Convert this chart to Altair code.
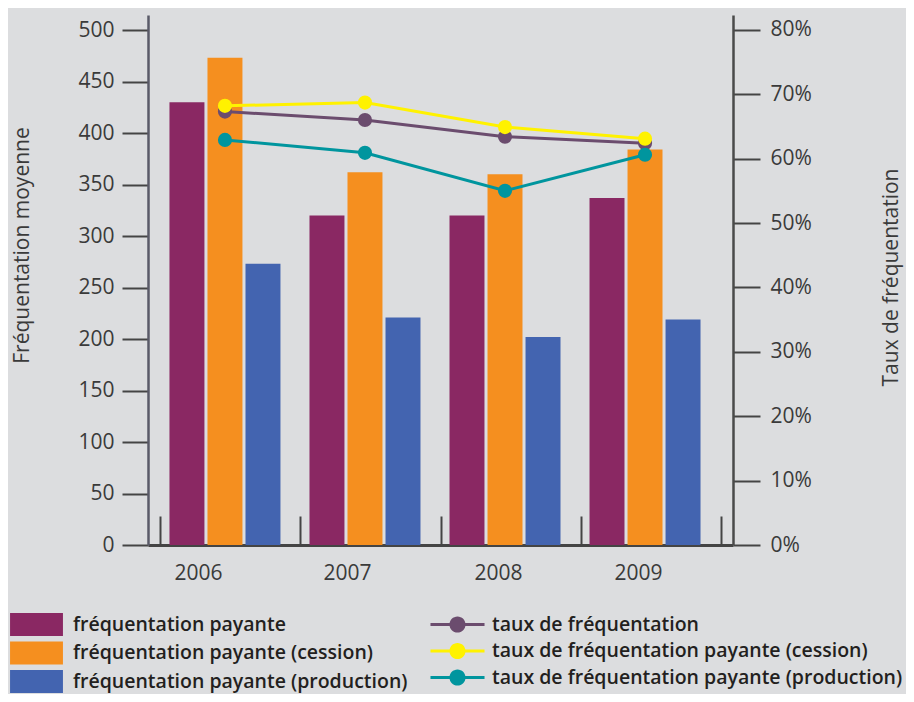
import altair as alt
import pandas as pd

years = ["2006", "2007", "2008", "2009"]
bar_series = ["fréquentation payante", "fréquentation payante (cession)", "fréquentation payante (production)"]
bar_colors = ["#8a2863", "#f58f1f", "#4364b0"]
freq_payante = [430, 320, 320, 337]
freq_cession = [473, 362, 360, 384]
freq_production = [273, 221, 202, 219]

rate_series = ["taux de fréquentation", "taux de fréquentation payante (cession)", "taux de fréquentation payante (production)"]
rate_colors = ["#6b4c6e", "#fff200", "#00959e"]
taux = [0.673, 0.660, 0.634, 0.624]
taux_cession = [0.682, 0.687, 0.649, 0.631]
taux_production = [0.629, 0.609, 0.550, 0.606]

left_ticks = [0, 50, 100, 150, 200, 250, 300, 350, 400, 450, 500]
right_ticks = [0, 0.1, 0.2, 0.3, 0.4, 0.5, 0.6, 0.7, 0.8]

bars_rows = []
for s, vals in zip(bar_series, [freq_payante, freq_cession, freq_production]):
    for y, v in zip(years, vals):
        bars_rows.append({"year": y, "series": s, "value": v})
df_bars = pd.DataFrame(bars_rows)

# draw order: taux, production, cession (yellow on top)
draw_order = [0, 2, 1]
rate_values = [taux, taux_cession, taux_production]
rate_rows = []
for i in draw_order:
    for y, v in zip(years, rate_values[i]):
        rate_rows.append({"year": y, "series": rate_series[i], "rate": v})
df_rates = pd.DataFrame(rate_rows)

FONT = "Open Sans"
TXT = "#3a3a3a"
BG = "#dcdddf"

xscale = alt.Scale(domain=years, paddingInner=0, paddingOuter=0.089)

bar_legend_path = "M-2.3,-1H2.3V1H-2.3Z"
line_legend_path = ("M-2.35,-0.13H2.35V0.13H-2.35Z "
                    "M0.7,0A0.7,0.7 0 1,1 -0.7,0A0.7,0.7 0 1,1 0.7,0Z")

legend_common = dict(orient="none", title=None, symbolSize=529,
                     symbolStrokeWidth=0, symbolOpacity=1,
                     rowPadding=5.5, padding=0,
                     labelFont=FONT, labelFontSize=19.5, labelFontWeight=600,
                     labelColor="#231f20", labelLimit=500)

bars = alt.Chart(df_bars).mark_bar().encode(
    x=alt.X("year:N", scale=xscale, axis=alt.Axis(
        orient="bottom", title=None, ticks=False, labelAngle=0,
        labelFont=FONT, labelFontSize=21, labelColor=TXT, labelPadding=17,
        labelOffset={"condition": [{"test": "datum.value == '2006'", "value": -32},
                                   {"test": "datum.value == '2007'", "value": -23}],
                     "value": -12},
        domainColor="#444444", domainWidth=3)),
    xOffset=alt.XOffset("series:N", scale=alt.Scale(domain=bar_series, range=[9, 120],
                                                    paddingInner=0.08, paddingOuter=0)),
    y=alt.Y("value:Q", scale=alt.Scale(domain=[0, 514.6], nice=False, zero=True),
            axis=alt.Axis(orient="left", values=left_ticks, title="Fréquentation moyenne",
                          grid=False, tickSize=26, tickWidth=2, tickColor="#444444",
                          domainColor="#5a5a68", domainWidth=2.5,
                          labelFont=FONT, labelFontSize=21, labelColor=TXT, labelPadding=8,
                          titleFont=FONT, titleFontSize=21, titleFontWeight="normal",
                          titleColor=TXT, titleAngle=270, titleX=-126, titleY=230,
                          titleAlign="center", titleBaseline="middle")),
    fill=alt.Fill("series:N", scale=alt.Scale(domain=bar_series, range=bar_colors),
                  legend=alt.Legend(legendX=-123, legendY=598,
                                    symbolType=bar_legend_path, labelOffset=25,
                                    **legend_common)),
)

rate_y = alt.Scale(domain=[0, 0.823], nice=False, zero=True)

lines = alt.Chart(df_rates).mark_line(strokeWidth=3).encode(
    x=alt.X("year:N", scale=xscale, axis=alt.Axis(
        orient="top", offset=-530, tickBand="extent", tickSize=29, tickWidth=2,
        tickColor="#444444", labels=False, domain=False, title=None)),
    xOffset=alt.value(64.5),
    y=alt.Y("rate:Q", scale=rate_y,
            axis=alt.Axis(orient="right", values=right_ticks, format=".0%",
                          title="Taux de fréquentation", grid=False,
                          tickSize=27, tickWidth=2, tickColor="#444444",
                          domainColor="#4a4a4a", domainWidth=2.5,
                          labelFont=FONT, labelFontSize=21, labelColor=TXT, labelPadding=10,
                          titleFont=FONT, titleFontSize=21, titleFontWeight="normal",
                          titleColor=TXT, titleAngle=270, titleX=158, titleY=262,
                          titleAlign="center", titleBaseline="middle")),
    stroke=alt.Stroke("series:N",
                      scale=alt.Scale(domain=[rate_series[i] for i in draw_order],
                                      range=[rate_colors[i] for i in draw_order]),
                      legend=None),
)

points = alt.Chart(df_rates).mark_circle(size=200, opacity=1).encode(
    x=alt.X("year:N", scale=xscale, axis=None),
    xOffset=alt.value(64.5),
    y=alt.Y("rate:Q", scale=rate_y, axis=None),
    color=alt.Color("series:N", scale=alt.Scale(domain=rate_series, range=rate_colors),
                    legend=alt.Legend(legendX=298, legendY=598,
                                      symbolType=line_legend_path, labelOffset=23,
                                      **legend_common)),
)

chart = alt.layer(bars, lines, points).resolve_scale(
    y="independent"
).resolve_axis(
    x="independent"
).properties(
    width=585, height=530,
    background=BG,
    padding={"left": 140, "top": 7, "right": 173, "bottom": 149},
    autosize=alt.AutoSizeParams(type="none"),
).configure_view(stroke=None)

chart.save("out.html", embed_options={"renderer": "svg", "actions": False})
